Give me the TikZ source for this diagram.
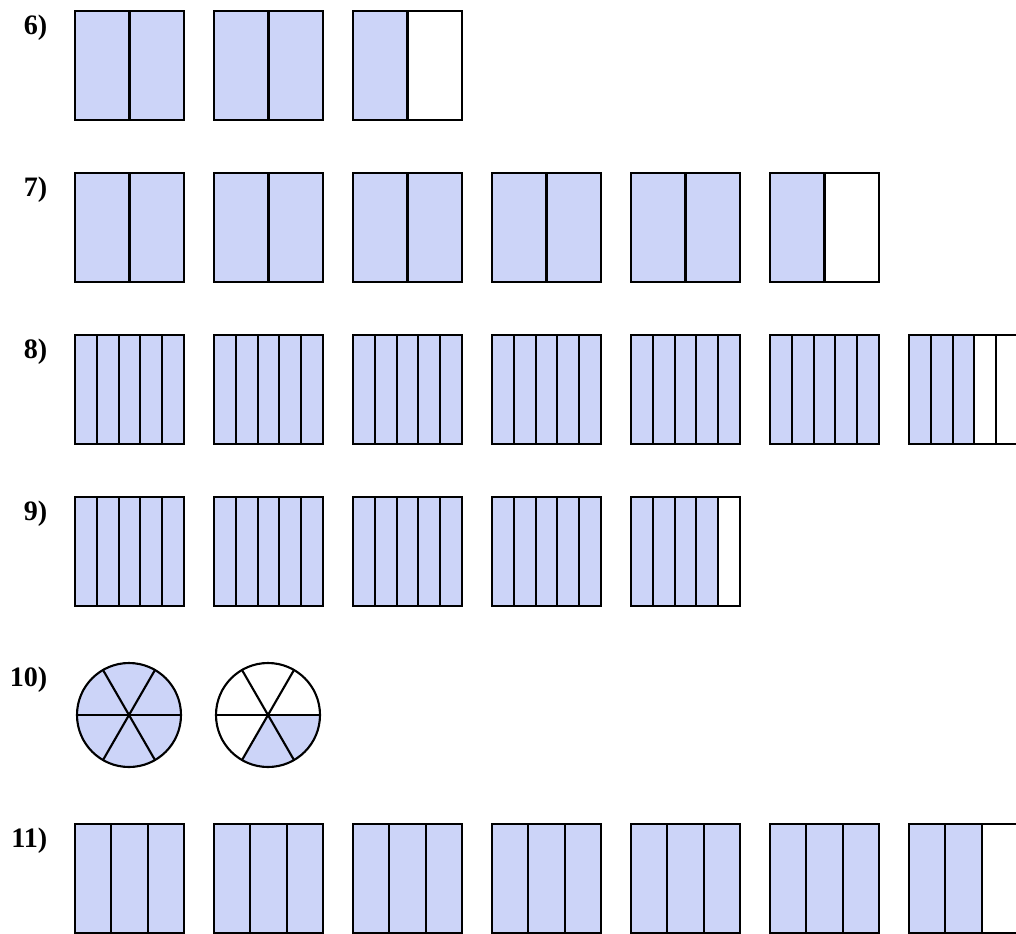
\documentclass[tikz,border=0pt]{standalone}
\usepackage{fontspec}
\setmainfont{Liberation Serif}
\usepackage{tikz}
\usetikzlibrary{positioning,calc}
\definecolor{fracblue}{RGB}{204,212,248}
\tikzset{
  cell/.style={draw=black,line width=0.6pt},
  lbl/.style={font=\fontsize{8}{9}\selectfont\bfseries,anchor=north east,inner sep=0pt},
}
% one bar split in #3 strips, #4 of them shaded
\newcommand{\barbox}[4]{%
  \pgfmathsetmacro{\cw}{109/#3}
  \foreach \k in {1,...,#3}{
    \ifnum\k>#4\relax \def\cfill{white}\else\def\cfill{fracblue}\fi
    \draw[cell,fill=\cfill] ({#1+(\k-1)*\cw},#2) rectangle ++(\cw,-109);
  }
}

\begin{document}
\begin{tikzpicture}[x=0.01cm,y=0.01cm]
  \useasboundingbox (0,0) rectangle (1016,933);
  % bar rows: label/top/strips/bars/shaded in last bar
  \foreach \lab/\yt/\np/\nb/\ns in {6/922/2/3/1, 7/760/2/6/1, 8/598/5/7/3, 9/436/5/5/4, 11/109/3/7/2}{
    \node[lbl] (lab\lab) at (48,\yt-3) {\lab)};
    \foreach \i in {1,...,\nb}{
      \ifnum\i<\nb \def\sh{\np}\else\def\sh{\ns}\fi
      \barbox{75+139*(\i-1)}{\yt}{\np}{\sh}
    }
  }
  % circles
  \node[lbl] (lab10) at (48,267) {10)};
  \coordinate (c1) at (129,218);
  \coordinate (c2) at (268,218);
  \fill[fracblue] (c1) circle (52);
  \fill[fracblue] (c2) -- ++(240:52) arc (240:360:52) -- cycle;
  \foreach \c in {c1,c2}{
    \foreach \a in {0,60,120}
      \draw[cell] ([shift={(\a:52)}]\c) -- ([shift={(\a+180:52)}]\c);
    \draw[cell] (\c) circle (52);
  }
\end{tikzpicture}
\end{document}
